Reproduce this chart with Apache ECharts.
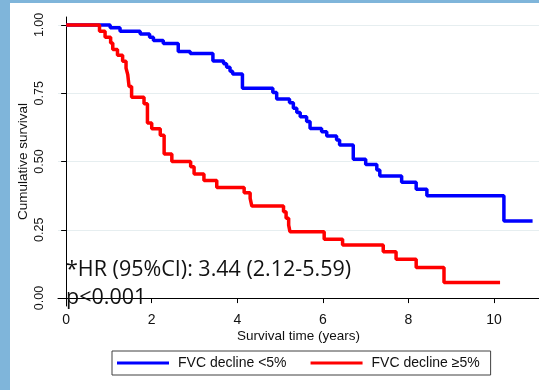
<!DOCTYPE html>
<html>
<head>
<meta charset="utf-8">
<script src="https://cdn.jsdelivr.net/npm/echarts@6/dist/echarts.min.js"></script>
<style>
  html, body { margin: 0; padding: 0; width: 539px; height: 390px; overflow: hidden; background: #7fb5da; }
  #paper { position: absolute; left: 10px; top: 3px; width: 529px; height: 387px; background: #ffffff; }
  #chart { position: absolute; left: 0; top: 0; width: 539px; height: 390px; }
</style>
</head>
<body>
<div id="paper"></div>
<div id="chart"></div>
<script>
// ---- data ----
const xTicks = [0, 2, 4, 6, 8, 10];
const yTicks = [0, 0.25, 0.5, 0.75, 1];
const seriesNames = ['FVC decline <5%', 'FVC decline \u22655%'];

const blueTime = [0, 1.03, 1.26, 1.73, 1.95, 2.04, 2.27, 2.62, 2.90, 3.43, 3.68, 3.75, 3.83, 3.89, 4.12, 4.83, 4.92, 5.22, 5.31, 5.39, 5.47, 5.62, 5.70, 5.97, 6.09, 6.32, 6.39, 6.71, 7.00, 7.26, 7.33, 7.84, 8.18, 8.43, 10.23, 10.9];
const blueSurv = [1, 0.99, 0.977, 0.967, 0.955, 0.943, 0.932, 0.903, 0.895, 0.868, 0.858, 0.845, 0.830, 0.820, 0.768, 0.753, 0.729, 0.715, 0.695, 0.679, 0.664, 0.646, 0.621, 0.609, 0.593, 0.579, 0.560, 0.508, 0.489, 0.469, 0.447, 0.424, 0.398, 0.375, 0.282, 0.282];

const redTime = [0, 0.78, 0.91, 1.04, 1.09, 1.20, 1.32, 1.40, 1.44, 1.47, 1.53, 1.82, 1.90, 2.00, 2.20, 2.29, 2.47, 2.91, 2.99, 3.22, 3.52, 4.16, 4.30, 4.34, 5.08, 5.14, 5.20, 5.23, 6.03, 6.46, 7.41, 7.71, 8.18, 8.83, 10.14];
const redSurv = [1, 0.977, 0.955, 0.934, 0.91, 0.889, 0.867, 0.842, 0.818, 0.775, 0.735, 0.711, 0.641, 0.62, 0.596, 0.527, 0.5, 0.481, 0.454, 0.43, 0.405, 0.386, 0.365, 0.337, 0.316, 0.292, 0.267, 0.243, 0.215, 0.194, 0.17, 0.142, 0.112, 0.057, 0.057];

const annotation1 = '*HR (95%CI): 3.44 (2.12-5.59)';
const annotation2 = 'p<0.001';

// ---- chart ----
const pairs = (xs, ys) => xs.map((x, i) => [x, ys[i]]);
const chart = echarts.init(document.getElementById('chart'), null, { renderer: 'canvas' });
const FONT = 'Liberation Sans, Arial, sans-serif';
const NOTE_FONT = 'Open Sans';

chart.setOption({
  backgroundColor: 'transparent',
  animation: false,
  title: [
    { text: annotation1, left: 66, top: 259, padding: 0,
      textStyle: { fontFamily: NOTE_FONT, fontSize: 21.5, fontWeight: 'normal', color: '#111' } },
    { text: annotation2, left: 66, top: 287, padding: 0,
      textStyle: { fontFamily: NOTE_FONT, fontSize: 21.5, fontWeight: 'normal', color: '#111' } }
  ],
  grid: { left: 58, right: 0, top: 17, bottom: 84, containLabel: false },
  xAxis: {
    type: 'value', min: -0.19, max: 11.05,
    name: 'Survival time (years)', nameLocation: 'middle', nameGap: 23, nameMoveOverlap: false,
    nameTextStyle: { fontFamily: FONT, fontSize: 13.5, color: '#111' },
    axisLine: { show: true, lineStyle: { color: '#000', width: 1 } },
    axisTick: { show: true, length: 5, customValues: xTicks, lineStyle: { color: '#000' } },
    axisLabel: { customValues: xTicks, fontFamily: FONT, fontSize: 14, color: '#111', margin: 7 },
    splitLine: { show: false }
  },
  yAxis: {
    type: 'value', min: -0.029, max: 1.029,
    name: 'Cumulative survival', nameLocation: 'middle', nameGap: 28, nameMoveOverlap: false,
    nameTextStyle: { fontFamily: FONT, fontSize: 13.5, color: '#111' },
    axisLine: { show: true, lineStyle: { color: '#000', width: 1 } },
    axisTick: { show: true, length: 5, customValues: yTicks, lineStyle: { color: '#000' } },
    axisLabel: { customValues: yTicks, rotate: 90, fontFamily: FONT, fontSize: 12.5, color: '#111', margin: 12,
      formatter: v => v.toFixed(2) },
    splitLine: { show: true, lineStyle: { color: '#e6eef0', width: 1 } }
  },
  legend: {
    left: 112, top: 351,
    orient: 'horizontal',
    padding: [5, 11, 5, 5],
    itemGap: 24, itemWidth: 52, itemHeight: 3,
    icon: 'rect',
    borderColor: '#404040', borderWidth: 1,
    textStyle: { fontFamily: FONT, fontSize: 14, color: '#111', padding: [0, 0, 0, 4] },
    data: seriesNames
  },
  series: [
    { name: seriesNames[0], type: 'line', step: 'end', showSymbol: false, symbol: 'none',
      data: pairs(blueTime, blueSurv), color: '#0000ff',
      lineStyle: { color: '#0000ff', width: 3.5 } },
    { name: seriesNames[1], type: 'line', step: 'end', showSymbol: false, symbol: 'none',
      data: pairs(redTime, redSurv), color: '#ff0000',
      lineStyle: { color: '#ff0000', width: 3.5 } }
  ]
});
</script>
</body>
</html>
